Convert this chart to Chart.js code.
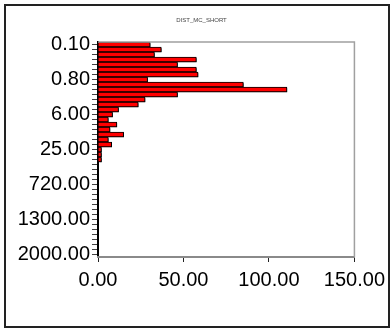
<!DOCTYPE html>
<html>
<head>
<meta charset="utf-8">
<script src="https://cdn.jsdelivr.net/npm/chart.js@4/dist/chart.umd.min.js"></script>
<style>
  html, body { margin: 0; padding: 0; background: #fff; }
  canvas { display: block; }
</style>
</head>
<body>
<canvas id="c" width="391" height="329"></canvas>
<script>
// Histogram of DIST_MC_SHORT: one count per bin, top bin first
const counts = [
  30.5, 37, 33, 57.5, 46.5, 57.5, 58.5,
  29, 85, 110.5, 46.5, 27.5, 23.5, 12,
  8.5, 6, 11, 7, 15, 6, 8,
  2, 2, 2, 0, 0, 0, 0,
  0, 0, 0, 0, 0, 0, 0,
  0, 0, 0, 0, 0, 0, 0,
  0
];
// bin labels shown on every 7th bin
const tickLabels = ['0.10', '0.80', '6.00', '25.00', '720.00', '1300.00', '2000.00'];
const labelEvery = 7;
const xTicks = [0, 50, 100, 150];
const chartTitle = 'DIST_MC_SHORT';

const categories = counts.map((_, i) => (i % labelEvery === 0 ? tickLabels[i / labelEvery] : ''));

const FONT = '"Liberation Sans", Arial, sans-serif';

const decor = {
  id: 'decor',
  beforeDatasetsDraw(chart) {
    const ctx = chart.ctx;
    ctx.save();
    ctx.shadowColor = 'rgba(0,0,0,0.7)';
    ctx.shadowOffsetX = 1;
    ctx.shadowOffsetY = 1;
    ctx.shadowBlur = 0;
  },
  afterDatasetsDraw(chart) {
    chart.ctx.restore();
  },
  afterDraw(chart) {
    const ctx = chart.ctx;
    const a = chart.chartArea;
    ctx.save();
    // plot frame: top and right edges
    ctx.strokeStyle = '#a0a0a0';
    ctx.lineWidth = 1.5;
    ctx.beginPath();
    ctx.moveTo(a.left, a.top);
    ctx.lineTo(a.right, a.top);
    ctx.lineTo(a.right, a.bottom);
    ctx.stroke();
    // outer frame
    ctx.strokeStyle = '#222';
    ctx.lineWidth = 2;
    ctx.strokeRect(5, 5, 384, 322);
    // title
    ctx.fillStyle = '#444';
    ctx.font = '6px ' + FONT;
    ctx.textAlign = 'center';
    ctx.textBaseline = 'middle';
    ctx.fillText(chartTitle, 201.5, 20);
    ctx.restore();
  }
};

new Chart(document.getElementById('c'), {
  type: 'bar',
  data: {
    labels: categories,
    datasets: [{
      data: counts,
      backgroundColor: '#ff0000',
      borderColor: '#000000',
      borderWidth: 1,
      barPercentage: 1.0,
      categoryPercentage: 1.0
    }]
  },
  options: {
    indexAxis: 'y',
    responsive: false,
    animation: false,
    devicePixelRatio: 1,
    layout: { padding: { top: 42, right: 34, left: 0, bottom: 0 } },
    plugins: {
      legend: { display: false },
      tooltip: { enabled: false },
      title: { display: false }
    },
    scales: {
      y: {
        type: 'category',
        offset: true,
        afterFit(scale) { scale.width = 98; },
        grid: {
          offset: false,
          drawOnChartArea: false,
          drawTicks: true,
          tickLength: 6,
          color: '#444',
          lineWidth: 1
        },
        border: { display: true, color: '#000', width: 2 },
        ticks: {
          autoSkip: false,
          padding: 2,
          color: '#000',
          font: { family: FONT, size: 20 }
        }
      },
      x: {
        type: 'linear',
        min: 0,
        max: 150,
        afterFit(scale) { scale.height = 72; },
        afterBuildTicks(scale) { scale.ticks = xTicks.map(v => ({ value: v })); },
        grid: {
          drawOnChartArea: false,
          drawTicks: true,
          tickLength: 5,
          color: '#222'
        },
        border: { display: true, color: '#8a8a8a', width: 2 },
        ticks: {
          padding: 6,
          color: '#000',
          font: { family: FONT, size: 20 },
          callback: v => Number(v).toFixed(2)
        }
      }
    }
  },
  plugins: [decor]
});
</script>
</body>
</html>
